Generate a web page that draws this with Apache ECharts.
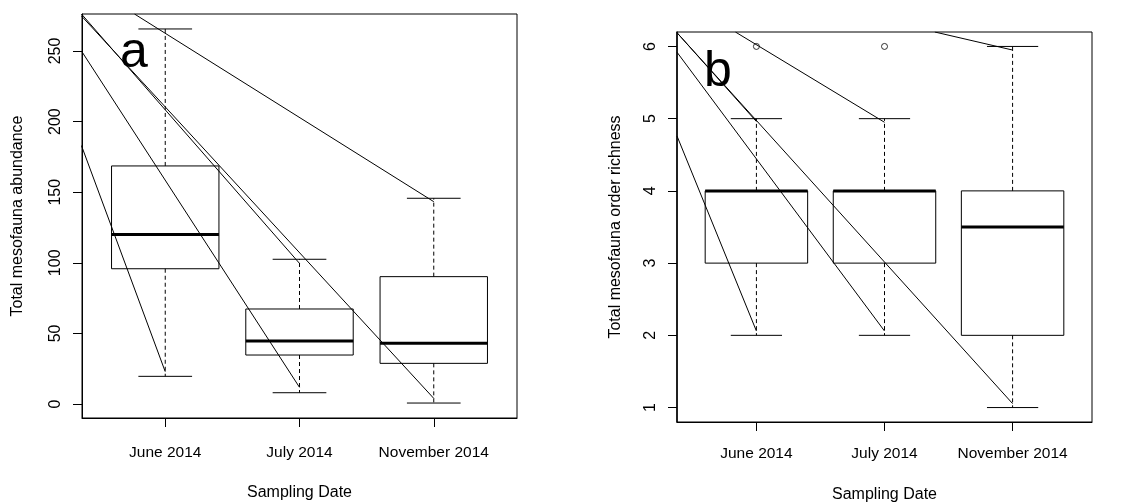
<!DOCTYPE html>
<html>
<head>
<meta charset="utf-8">
<script src="https://cdn.jsdelivr.net/npm/echarts@6/dist/echarts.min.js"></script>
<style>
html,body{margin:0;padding:0;background:#fff;}
#chart{width:1135px;height:503px;}
</style>
</head>
<body>
<div id="chart"></div>
<script>
// ---- data ----
const categories = ['June 2014', 'July 2014', 'November 2014'];
// [lower whisker, Q1, median, Q3, upper whisker]
const abundanceJune = [19.6, 95.8, 120, 168.6, 265.6];
const abundanceJuly = [8, 34.7, 44.6, 67.3, 102.5];
const abundanceNov = [0.7, 28.8, 43, 90.2, 145.7];
const richnessJune = [2, 3, 4, 4, 5];
const richnessJuly = [2, 3, 4, 4, 5];
const richnessNov = [1, 2, 3.5, 4, 6];
const richnessOutliers = [[1, 6], [2, 6]];
const abundanceTicks = [0, 50, 100, 150, 200, 250];
const richnessTicks = [1, 2, 3, 4, 5, 6];
// straight segments drawn over panels: [x0, y0, x1, y1]
const abundanceSegments = [
  [0.376, 183, 1, 22.9],
  [0.376, 250, 2, 11.8],
  [0.376, 276.2, 2, 99.6],
  [0.376, 274.8, 3, 4],
  [0.771, 276.2, 3, 143.3]
];
const richnessSegments = [
  [0.38, 4.76, 1, 2.06],
  [0.38, 5.92, 2, 2.06],
  [0.38, 6.19, 1, 4.96],
  [0.38, 6.19, 3, 1.055],
  [0.836, 6.2, 2, 4.95],
  [2.393, 6.2, 3, 5.95]
];

const FONT = 'Liberation Sans, Arial, sans-serif';

function boxData(arrs) {
  return arrs.map((a, i) => [i + 1].concat(a));
}

function renderBox(params, api) {
  const x = api.value(0);
  const lo = api.coord([x, api.value(1)]);
  const q1 = api.coord([x, api.value(2)]);
  const md = api.coord([x, api.value(3)]);
  const q3 = api.coord([x, api.value(4)]);
  const hi = api.coord([x, api.value(5)]);
  const bw = api.size([0.8, 0])[0];
  const cw = api.size([0.4, 0])[0];
  const cx = lo[0];
  const st = {stroke: '#000', lineWidth: 1, fill: null};
  const dash = {stroke: '#000', lineWidth: 1, lineDash: [4, 3], fill: null};
  return {
    type: 'group',
    children: [
      {type: 'line', shape: {x1: cx, y1: q3[1], x2: cx, y2: hi[1]}, style: dash},
      {type: 'line', shape: {x1: cx, y1: q1[1], x2: cx, y2: lo[1]}, style: dash},
      {type: 'line', shape: {x1: cx - cw / 2, y1: hi[1], x2: cx + cw / 2, y2: hi[1]}, style: st},
      {type: 'line', shape: {x1: cx - cw / 2, y1: lo[1], x2: cx + cw / 2, y2: lo[1]}, style: st},
      {type: 'rect', shape: {x: cx - bw / 2, y: q3[1], width: bw, height: q1[1] - q3[1]}, style: st},
      {type: 'line', shape: {x1: cx - bw / 2, y1: md[1], x2: cx + bw / 2, y2: md[1]}, style: {stroke: '#000', lineWidth: 3}}
    ]
  };
}

function segSeries(segs, idx) {
  return segs.map(s => ({
    type: 'line', xAxisIndex: idx, yAxisIndex: idx,
    data: [[s[0], s[1]], [s[2], s[3]]],
    showSymbol: false, symbol: 'none', silent: true, animation: false,
    lineStyle: {color: '#000', width: 1}, clip: true
  }));
}

function xAxisCfg(idx, margin, gap) {
  return {
    type: 'value', gridIndex: idx, min: 0.38, max: 3.62,
    splitLine: {show: false},
    axisLine: {show: true, onZero: false, lineStyle: {color: '#000', width: 1}},
    axisTick: {show: true, customValues: [1, 2, 3], length: 9, lineStyle: {color: '#000'}},
    axisLabel: {customValues: [1, 2, 3], formatter: v => categories[Math.round(v) - 1], color: '#000',
      fontFamily: FONT, fontSize: 15.5, margin: margin},
    name: 'Sampling Date', nameLocation: 'middle', nameGap: gap,
    nameTextStyle: {color: '#000', fontFamily: FONT, fontSize: 16}
  };
}

function yAxisCfg(idx, min, max, ticks, name, gap, lw) {
  return {
    type: 'value', gridIndex: idx, min: min, max: max,
    splitLine: {show: false},
    axisLine: {show: true, onZero: false, lineStyle: {color: '#000', width: lw}},
    axisTick: {show: true, customValues: ticks, length: 9, lineStyle: {color: '#000'}},
    axisLabel: {customValues: ticks, rotate: 90, color: '#000', fontFamily: FONT, fontSize: 16, margin: 18},
    name: name, nameLocation: 'middle', nameGap: gap, nameRotate: 90,
    nameTextStyle: {color: '#000', fontFamily: FONT, fontSize: 16}
  };
}

const chart = echarts.init(document.getElementById('chart'), null, {renderer: 'canvas'});
const option = {
  animation: false,
  backgroundColor: '#fff',
  grid: [
    {left: 82, top: 14, width: 435, height: 404, show: true, borderColor: '#000', borderWidth: 1,
      containLabel: false, outerBoundsMode: 'none'},
    {left: 677, top: 32, width: 415, height: 390, show: true, borderColor: '#000', borderWidth: 1,
      containLabel: false, outerBoundsMode: 'none'}
  ],
  xAxis: [xAxisCfg(0, 27, 67), xAxisCfg(1, 24, 65)],
  yAxis: [
    yAxisCfg(0, -9.9, 276.2, abundanceTicks, 'Total mesofauna abundance', 56, 1),
    yAxisCfg(1, 0.8, 6.2, richnessTicks, 'Total mesofauna order richness', 53, 1.5)
  ],
  graphic: [
    {type: 'text', x: 134, y: 53, style: {text: 'a', font: '50px ' + FONT, fill: '#000', align: 'center', verticalAlign: 'middle'}},
    {type: 'text', x: 718, y: 72, style: {text: 'b', font: '50px ' + FONT, fill: '#000', align: 'center', verticalAlign: 'middle'}}
  ],
  series: [
    {type: 'custom', xAxisIndex: 0, yAxisIndex: 0, renderItem: renderBox,
      data: boxData([abundanceJune, abundanceJuly, abundanceNov]), silent: true},
    {type: 'custom', xAxisIndex: 1, yAxisIndex: 1, renderItem: renderBox,
      data: boxData([richnessJune, richnessJuly, richnessNov]), silent: true},
    {type: 'scatter', xAxisIndex: 1, yAxisIndex: 1, data: richnessOutliers, symbol: 'circle', symbolSize: 6,
      itemStyle: {color: '#fff', borderColor: '#000', borderWidth: 1}, silent: true}
  ].concat(segSeries(abundanceSegments, 0)).concat(segSeries(richnessSegments, 1))
};
chart.setOption(option);
</script>
</body>
</html>
